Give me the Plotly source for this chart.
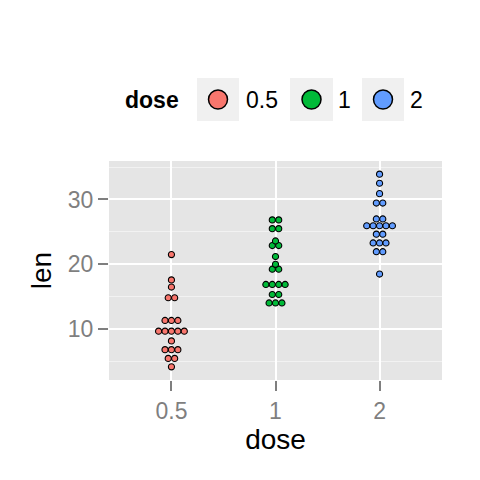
import plotly.graph_objects as go

# ---- data (ToothGrowth len by dose) ----
dose_labels = ["0.5", "1", "2"]
len_d05 = [4.2, 11.5, 7.3, 5.8, 6.4, 10.0, 11.2, 11.2, 5.2, 7.0,
           15.2, 21.5, 17.6, 9.7, 14.5, 10.0, 8.2, 9.4, 16.5, 9.7]
len_d1 = [16.5, 16.5, 15.2, 17.3, 22.5, 17.3, 13.6, 14.5, 18.8, 15.5,
          19.7, 23.3, 23.6, 26.4, 20.0, 25.2, 25.8, 21.2, 14.5, 27.3]
len_d2 = [23.6, 18.5, 33.9, 25.5, 26.4, 32.5, 26.7, 21.5, 23.3, 29.5,
          25.5, 26.4, 22.4, 24.5, 24.8, 30.9, 26.4, 27.3, 29.4, 23.0]
groups = [len_d05, len_d1, len_d2]
colors = ["#F8766D", "#00BA38", "#619CFF"]
y_ticks = [10, 20, 30]
y_minor = [5, 15, 25, 35]

# ---- layout geometry ----
W, H = 480, 480
L, R, T, B = 109, 38, 161, 100
plot_w = W - L - R
plot_h = H - T - B

allv = [v for g in groups for v in g]
binwidth = (max(allv) - min(allv)) / 30.0


def dotdensity(vals, bw):
    xs = sorted(vals)
    bins = []
    binend = -1e18
    for v in xs:
        if v >= binend:
            bins.append([v])
            binend = v + bw
        else:
            bins[-1].append(v)
    return [((min(b) + max(b)) / 2.0, len(b)) for b in bins]


binned = [dotdensity(g, binwidth) for g in groups]
centers = [c for bl in binned for c, _ in bl]
ylo = min(centers) - binwidth / 2
yhi = max(centers) + binwidth / 2
span = yhi - ylo
y_range = [ylo - 0.05 * span, yhi + 0.05 * span]
x_range = [-0.6, len(groups) - 1 + 0.6]

ppy = plot_h / (y_range[1] - y_range[0])
ppx = plot_w / (x_range[1] - x_range[0])
dia_px = binwidth * ppy

fig = go.Figure()
for gi, bl in enumerate(binned):
    xs, ys = [], []
    for c, n in bl:
        for k in range(n):
            off = (k - (n - 1) / 2.0) * dia_px / ppx
            xs.append(gi + off)
            ys.append(c)
    fig.add_trace(go.Scatter(
        x=xs, y=ys, mode="markers", showlegend=False,
        marker=dict(size=dia_px - 0.3, color=colors[gi],
                    line=dict(color="black", width=1.1)),
        hoverinfo="skip"))


def xp(px):
    return (px - L) / plot_w


def yp(py):
    return (H - B - py) / plot_h


shapes = []
annotations = []
key_x = [(197, 239), (290, 333), (362, 404)]
key_y = (78, 121)
label_x = [244, 336, 408]
cy = (key_y[0] + key_y[1]) / 2
rad = 9.5
for i, (a, b) in enumerate(key_x):
    shapes.append(dict(type="rect", xref="paper", yref="paper",
                       x0=xp(a), x1=xp(b), y0=yp(key_y[1]), y1=yp(key_y[0]),
                       fillcolor="#F0F0F0", line=dict(width=0), layer="below"))
    cx = (a + b) / 2
    shapes.append(dict(type="circle", xref="paper", yref="paper",
                       x0=xp(cx - rad), x1=xp(cx + rad),
                       y0=yp(cy + rad), y1=yp(cy - rad),
                       fillcolor=colors[i], line=dict(color="black", width=1.5)))
    annotations.append(dict(text=dose_labels[i], xref="paper", yref="paper",
                            x=xp(label_x[i]), y=yp(cy), xanchor="left",
                            yanchor="middle", showarrow=False,
                            font=dict(size=23, color="black")))
annotations.append(dict(text="<b>dose</b>", xref="paper", yref="paper",
                        x=xp(123), y=yp(cy), xanchor="left", yanchor="middle",
                        showarrow=False, font=dict(size=23, color="black")))

fig.update_layout(
    width=W, height=H,
    margin=dict(l=L, r=R, t=T, b=B),
    paper_bgcolor="white", plot_bgcolor="#E5E5E5",
    font=dict(family="Liberation Sans, Arial, sans-serif"),
    shapes=shapes, annotations=annotations,
    showlegend=False, hovermode=False,
)
fig.update_xaxes(
    range=x_range, tickmode="array", tickvals=list(range(len(groups))),
    ticktext=dose_labels, showgrid=True, gridcolor="white", gridwidth=2,
    zeroline=False, showline=False, ticks="outside", ticklen=10, tickwidth=2,
    tickcolor="#7F7F7F", tickfont=dict(size=23, color="#7F7F7F"),
    title=dict(text="dose", font=dict(size=28, color="black"), standoff=6),
)
fig.update_yaxes(
    range=y_range, tickmode="array", tickvals=y_ticks,
    showgrid=True, gridcolor="white", gridwidth=2,
    minor=dict(tickmode="array", tickvals=y_minor, showgrid=True,
               gridcolor="#F2F2F2", gridwidth=1, ticks=""),
    zeroline=False, showline=False, ticks="outside", ticklen=10, tickwidth=2,
    tickcolor="#7F7F7F", tickfont=dict(size=23, color="#7F7F7F"),
    title=dict(text="len", font=dict(size=28, color="black"), standoff=8),
)

fig.write_html("out.html",
               config={"displayModeBar": False, "staticPlot": True},
               post_script="document.body.style.margin='0';"
                           "document.body.style.overflow='hidden';")
